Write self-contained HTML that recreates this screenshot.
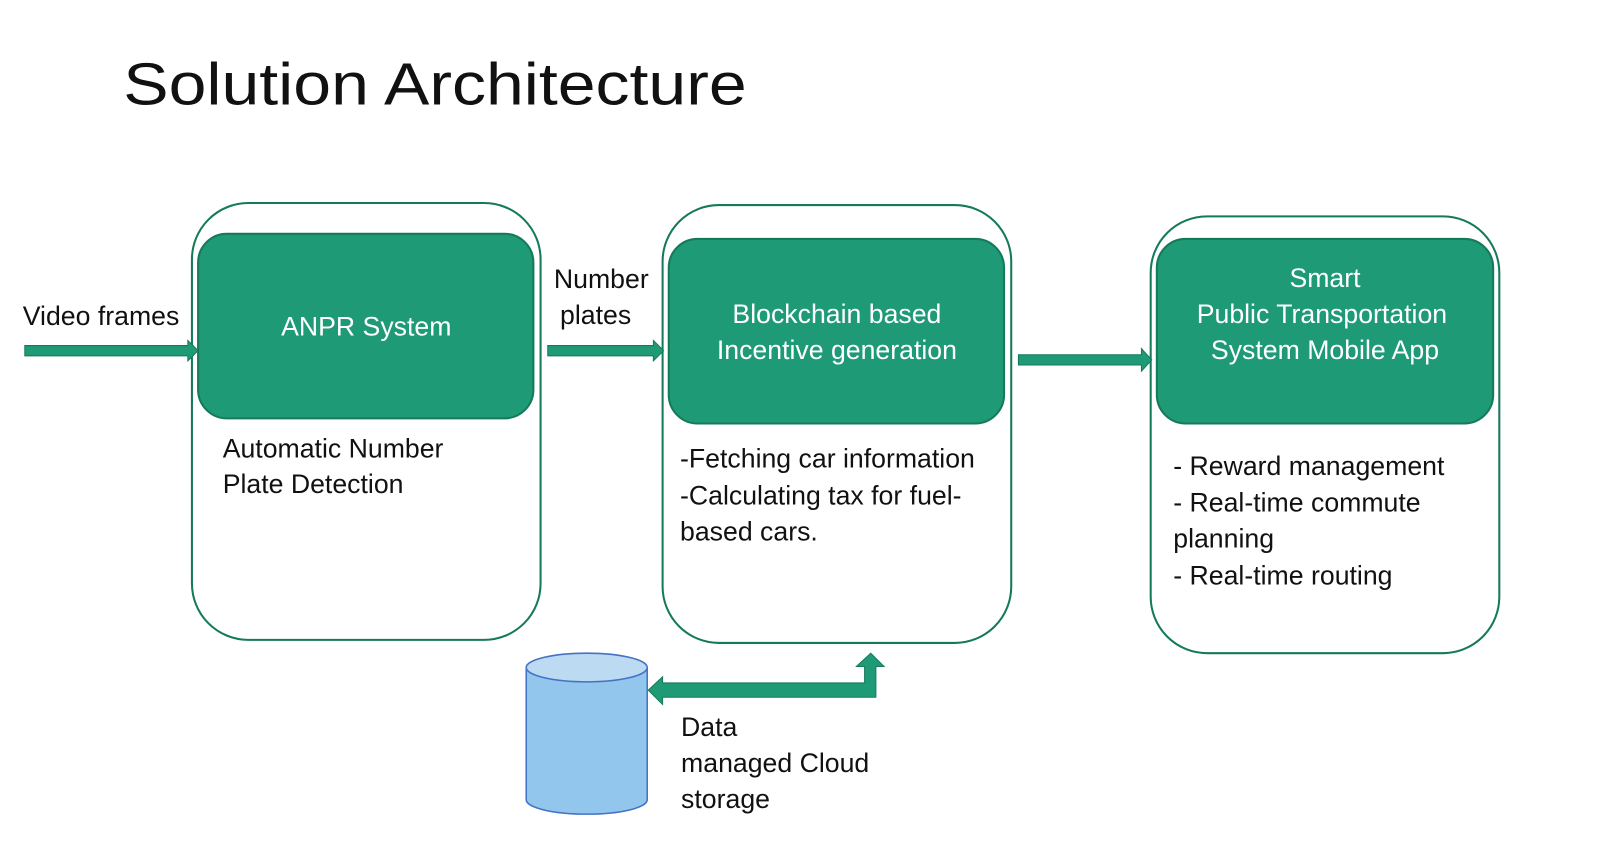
<!DOCTYPE html>
<html><head><meta charset="utf-8"><style>
html,body{margin:0;padding:0;background:#fff;}
svg{display:block;}
text{font-family:"Liberation Sans",sans-serif;}
</style></head><body>
<svg width="1600" height="848" viewBox="0 0 1560 827" xmlns="http://www.w3.org/2000/svg">
<rect width="1560" height="827" fill="#fff"/>
<text x="120" y="102" font-size="58" fill="#111" textLength="608" lengthAdjust="spacingAndGlyphs">Solution Architecture</text>

<rect x="187" y="198" width="340" height="426" rx="55" fill="#fff" stroke="#157a5a" stroke-width="2"/>
<rect x="646" y="200" width="340" height="427" rx="55" fill="#fff" stroke="#157a5a" stroke-width="2"/>
<rect x="1122" y="211" width="340" height="426" rx="55" fill="#fff" stroke="#157a5a" stroke-width="2"/>

<rect x="193" y="228" width="327" height="180" rx="28" fill="#1e9a76" stroke="#157a5a" stroke-width="2"/>
<rect x="652" y="233" width="327" height="180" rx="28" fill="#1e9a76" stroke="#157a5a" stroke-width="2"/>
<rect x="1128" y="233" width="328" height="180" rx="28" fill="#1e9a76" stroke="#157a5a" stroke-width="2"/>

<g fill="#fff" font-size="26" text-anchor="middle">
<text x="357" y="327">ANPR System</text>
<text x="816" y="315">Blockchain based</text>
<text x="816" y="350">Incentive generation</text>
<text x="1292" y="280">Smart</text>
<text x="1289" y="315">Public Transportation</text>
<text x="1292" y="350">System Mobile App</text>
</g>

<g fill="#111" font-size="26">
<text x="22" y="317">Video frames</text>
<text x="540" y="281">Number</text>
<text x="546" y="316">plates</text>
<text x="217" y="446">Automatic Number</text>
<text x="217" y="481">Plate Detection</text>
<text x="663" y="456">-Fetching car information</text>
<text x="663" y="492">-Calculating tax for fuel-</text>
<text x="663" y="527">based cars.</text>
<text x="1144" y="463">- Reward management</text>
<text x="1144" y="499">- Real-time commute</text>
<text x="1144" y="534">planning</text>
<text x="1144" y="570">- Real-time routing</text>
<text x="664" y="718">Data</text>
<text x="664" y="753">managed Cloud</text>
<text x="664" y="788">storage</text>
</g>

<g fill="#1e9a76" stroke="#157a5a" stroke-width="1">
<polygon points="24,337 183,337 183,332 193,342 183,352 183,347 24,347"/>
<polygon points="534,337 637,337 637,332 647,342 637,352 637,347 534,347"/>
<polygon points="993,346 1113,346 1113,340 1123,351 1113,362 1113,356 993,356"/>
<polygon points="632,673 646,660 646,666 843,666 843,650 835,650 849,637 862,650 854,650 854,680 646,680 646,687"/>
</g>

<path d="M513,651 L513,780 A59,14 0 0 0 631,780 L631,651" fill="#93c6ec" stroke="#4472c4" stroke-width="1.5"/>
<ellipse cx="572" cy="651" rx="59" ry="14" fill="#bcdaf2" stroke="#4472c4" stroke-width="1.5"/>
</svg>
</body></html>
